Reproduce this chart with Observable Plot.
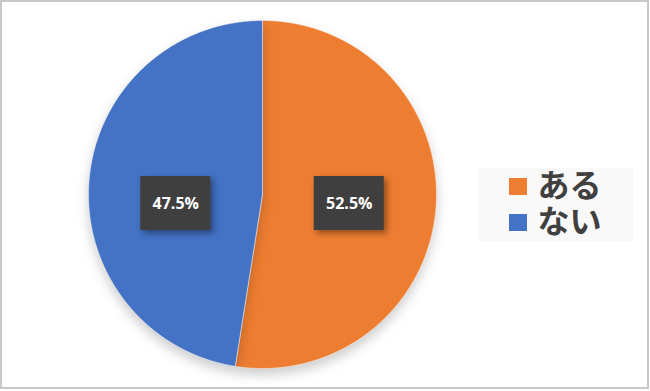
<!DOCTYPE html>
<html>
<head>
<meta charset="utf-8">
<script src="https://cdn.jsdelivr.net/npm/d3@7"></script>
<script src="https://cdn.jsdelivr.net/npm/@observablehq/plot@0.6"></script>
<style>
  html, body { margin: 0; padding: 0; background: #fff; }
  #chart svg { display: block; }
</style>
</head>
<body>
<div id="chart"></div>
<script>
// ---- data ----
const categories = ["ある", "ない"];
const values = [52.5, 47.5];
const valueLabels = ["52.5%", "47.5%"];
const colors = ["#ED7D31", "#4472C4"];

// ---- layout constants ----
const W = 650, H = 391;
const cx = 262, cy = 194, R = 174;

const data = categories.map((c, i) => ({cat: c, value: values[i], label: valueLabels[i], color: colors[i], i}));
const arcs = d3.pie().sort(null).value(d => d.value)(data);

function pt(a, r) { return {x: cx + r * Math.sin(a), y: cy - r * Math.cos(a)}; }

const slices = arcs.map(a => {
  const pts = [{x: cx, y: cy}];
  const n = Math.max(2, Math.ceil((a.endAngle - a.startAngle) / (Math.PI / 720)));
  for (let k = 0; k <= n; k++) pts.push(pt(a.startAngle + (a.endAngle - a.startAngle) * k / n, R));
  pts.push({x: cx, y: cy});
  return {pts, color: a.data.color};
});

const labelPts = arcs.map(a => {
  const m = (a.startAngle + a.endAngle) / 2;
  const p = pt(m, R * 0.5);
  return {x: p.x, y: cy + 9, label: a.data.label};
});
const bw = 70, bh = 54;

const legend = data.map(d => ({...d}));
const legY0 = 186, legStep = 36;

const plot = Plot.plot({
  width: W, height: H,
  margin: 0,
  x: {domain: [0, W], range: [0, W], axis: null},
  y: {domain: [0, H], range: [0, H], axis: null},
  marks: [
    // outer frame
    Plot.rect([0], {x1: 1, x2: W - 2, y1: 1, y2: H - 3, fill: "none", stroke: "#c8c8c8", strokeWidth: 2}),
    // slices
    ...slices.map(s => Plot.line(s.pts, {x: "x", y: "y", fill: s.color, stroke: "#ffffff", strokeWidth: 0.8, strokeOpacity: 0.6, ariaDescription: "pie", curve: "linear"})),
    // label boxes
    Plot.rect(labelPts, {x1: d => d.x - bw / 2, x2: d => d.x + bw / 2, y1: d => d.y - bh / 2, y2: d => d.y + bh / 2, fill: "#3e3e3e", ariaDescription: "box"}),
    Plot.text(labelPts, {x: "x", y: "y", text: "label", fill: "white", fontSize: 16, fontWeight: "bold", fontFamily: "Open Sans, sans-serif"}),
    // legend
    Plot.rect([0], {x1: 478, x2: 633, y1: 168, y2: 241, fill: "#f9f9f9"}),
    Plot.rect(legend, {x1: 509, x2: 527, y1: d => legY0 - 8 + d.i * legStep, y2: d => legY0 + 9 + d.i * legStep, fill: "color"}),
    Plot.text(legend, {x: 537, y: d => legY0 + d.i * legStep, text: "cat", textAnchor: "start", fontSize: 32, fontWeight: "bold", fill: "#404040", fontFamily: "Noto Sans CJK JP, sans-serif"})
  ],
  color: {type: "identity"}
});

// decorations: shadows and dotted pattern
const svg = d3.select(plot);
const defs = svg.insert("defs", ":first-child");
const pat = defs.append("pattern").attr("id", "dots").attr("patternUnits", "userSpaceOnUse").attr("width", 4).attr("height", 4);
pat.append("rect").attr("width", 4).attr("height", 4).attr("fill", "#3d3d3d");
pat.append("circle").attr("cx", 1).attr("cy", 1).attr("r", 0.8).attr("fill", "#464646");
pat.append("circle").attr("cx", 3).attr("cy", 3).attr("r", 0.8).attr("fill", "#464646");
svg.selectAll("g[aria-description=pie]").style("filter", "drop-shadow(0px 6px 6px rgba(0,0,0,0.2))");
svg.selectAll("g[aria-description=box]").style("filter", "drop-shadow(3px 3px 3px rgba(0,0,0,0.4))")
  .selectAll("rect").attr("fill", "url(#dots)");

document.getElementById("chart").appendChild(plot);
</script>
</body>
</html>
